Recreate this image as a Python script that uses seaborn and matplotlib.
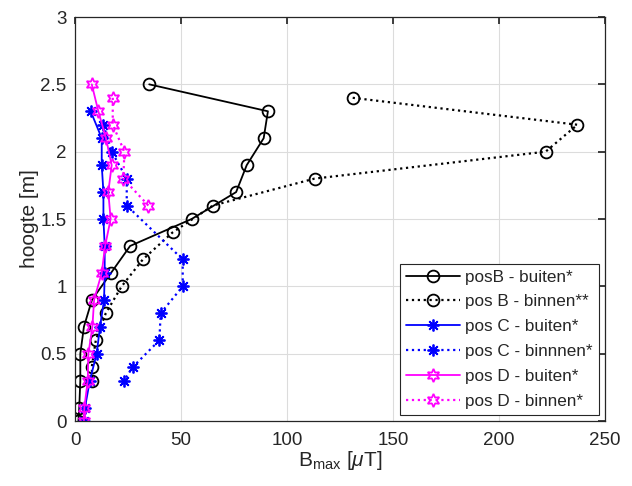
import numpy as np
import pandas as pd
import matplotlib
matplotlib.use("Agg")
import matplotlib.pyplot as plt
from matplotlib.ticker import FuncFormatter, MultipleLocator
import seaborn as sns

# Measured field strength B_max [uT] against height [m]
hoogte_buiten = [2.5, 2.3, 2.1, 1.9, 1.7, 1.5, 1.3, 1.1, 0.9, 0.7, 0.5, 0.3, 0.1, 0.0]
hoogte_binnen = [2.4, 2.2, 2.0, 1.8, 1.6, 1.4, 1.2, 1.0, 0.8, 0.6, 0.4, 0.3]

posB_buiten = [35, 91, 89, 81, 76, 55, 26, 17, 8, 4.2, 2.5, 2.5, 2.0, 1.6]
posB_binnen = [131, 237, 222, 113, 65, 46, 32, 22, 14.5, 9.8, 7.9, 8.2]

hoogte_C_buiten = [2.3, 2.1, 1.9, 1.7, 1.5, 1.3, 1.1, 0.9, 0.7, 0.5, 0.3, 0.1, 0.0]
posC_buiten = [7.4, 12.6, 12.6, 13.4, 13.4, 14.0, 14.0, 13.7, 11.8, 10.2, 7.0, 4.7, 4.2]
hoogte_C_binnen = [2.2, 2.0, 1.8, 1.6, 1.2, 1.0, 0.8, 0.6, 0.4, 0.3]
posC_binnen = [13.4, 17.3, 24.4, 24.4, 50.8, 50.8, 40.4, 39.8, 27.2, 23.1]

posD_buiten = [7.9, 11.0, 14.6, 17.3, 15.7, 16.8, 14.2, 12.6, 9.0, 8.2, 6.3, 6.0, 4.4, 4.2]
hoogte_D_binnen = [2.4, 2.2, 2.0, 1.8, 1.6]
posD_binnen = [17.8, 17.8, 23.3, 22.8, 34.6]

labels = ["posB - buiten*", "pos B - binnen**", "pos C - buiten*",
          "pos C - binnnen*", "pos D - buiten*", "pos D - binnen*"]

sns.set_theme(style="white")
plt.rcParams["font.family"] = ["Liberation Sans", "DejaVu Sans"]
plt.rcParams["mathtext.fontset"] = "custom"
plt.rcParams["mathtext.rm"] = "Liberation Sans"
plt.rcParams["mathtext.it"] = "Liberation Sans:italic"

fig = plt.figure(figsize=(6.32, 4.86), dpi=100)
ax = fig.add_axes([0.1187, 0.1337, 0.8385, 0.8313])

asterisk = (8, 2, 0)
hexagram = (6, 1, 0)

series = [
    (posB_buiten, hoogte_buiten, "black", "-", "o", 8.5),
    (posB_binnen, hoogte_binnen, "black", ":", "o", 8.5),
    (posC_buiten, hoogte_C_buiten, "#0000ff", "-", asterisk, 8.5),
    (posC_binnen, hoogte_C_binnen, "#0000ff", ":", asterisk, 8.5),
    (posD_buiten, hoogte_buiten, "#ff00ff", "-", hexagram, 9.5),
    (posD_binnen, hoogte_D_binnen, "#ff00ff", ":", hexagram, 9.5),
]

for (xv, yv, col, ls, mk, ms), lab in zip(series, labels):
    df = pd.DataFrame({"B": xv, "h": yv})
    sns.lineplot(data=df, x="B", y="h", ax=ax, sort=False, estimator=None,
                 color=col, linestyle=ls, linewidth=1.3 if ls == "-" else 1.6,
                 marker=mk, markersize=ms, markerfacecolor="none",
                 markeredgecolor=col, markeredgewidth=1.3, label=lab)

ax.set_xlim(0, 250)
ax.set_ylim(0, 3)
ax.xaxis.set_major_locator(MultipleLocator(50))
ax.yaxis.set_major_locator(MultipleLocator(0.5))
ax.yaxis.set_major_formatter(FuncFormatter(lambda v, p: f"{v:g}"))
ax.xaxis.set_major_formatter(FuncFormatter(lambda v, p: f"{v:g}"))

ax.grid(True, color="#dcdcdc", linewidth=0.8)
ax.set_axisbelow(True)
for s in ax.spines.values():
    s.set_color("#262626")
    s.set_linewidth(0.9)
ax.tick_params(axis="both", which="both", direction="in", length=5,
               top=True, right=True, labelsize=13.5, colors="#262626")
ax.tick_params(axis="x", pad=8)
ax.tick_params(axis="y", pad=6)

ax.set_xlabel(r"B$_{\mathrm{max}}$ [$\mathit{\mu}$T]", fontsize=15, color="#262626", labelpad=0)
ax.set_ylabel("hoogte [m]", fontsize=15, color="#262626", labelpad=1)

leg = ax.legend(loc="lower right", fontsize=12.3, frameon=True, fancybox=False,
                framealpha=1, edgecolor="#262626", borderaxespad=0.35,
                handlelength=3.2, handletextpad=0.3, labelspacing=0.58,
                borderpad=0.35, numpoints=1)
leg.get_frame().set_linewidth(0.8)

fig.savefig("out.png", dpi=100)
